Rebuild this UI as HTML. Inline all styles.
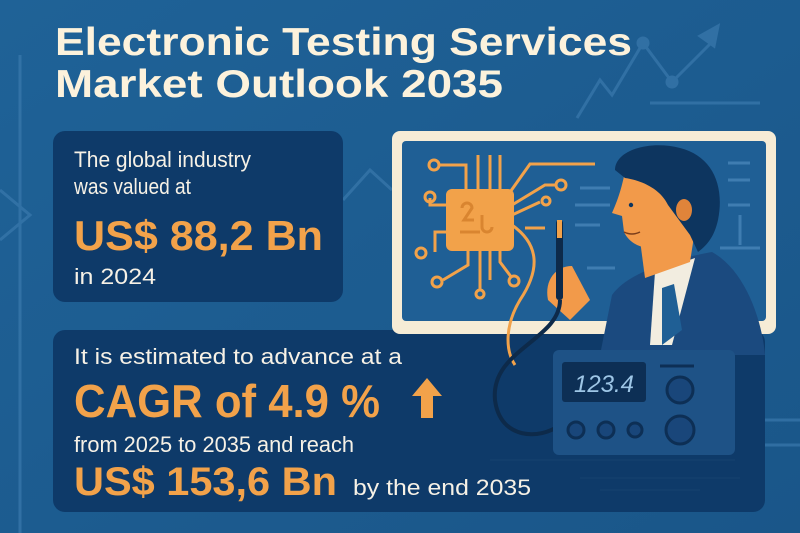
<!DOCTYPE html>
<html><head><meta charset="utf-8"><style>
html,body{margin:0;padding:0;background:#1d5d91;}
svg{display:block;font-family:"Liberation Sans",sans-serif;}
</style></head><body>
<svg width="800" height="533" viewBox="0 0 800 533">
<defs><linearGradient id="bg" x1="0" y1="0" x2="1" y2="1"><stop offset="0" stop-color="#1f6297"/><stop offset="1" stop-color="#1a5689"/></linearGradient></defs>
<rect width="800" height="533" fill="url(#bg)"/>
<g stroke="#3a79ad" stroke-width="3" fill="none" opacity="0.7">
<polyline points="577,118 600,80 612,95 643,43 672,82 710,44"/><polygon points="700,36 718,26 714,46" fill="#3a79ad"/>
<circle cx="643" cy="43" r="5" fill="#3a79ad"/><circle cx="672" cy="82" r="5" fill="#3a79ad"/>
<line x1="650" y1="103" x2="760" y2="103"/>
<line x1="20" y1="55" x2="20" y2="533"/><polyline points="0,190 30,215 0,240"/>
<polyline points="343,200 370,170 392,190"/><line x1="735" y1="420" x2="800" y2="420"/><line x1="735" y1="445" x2="800" y2="445"/>
</g>
<g fill="#fcf2dc" font-weight="bold" font-size="39">
<text x="55" y="55" textLength="577" lengthAdjust="spacingAndGlyphs">Electronic Testing Services</text>
<text x="55" y="97" textLength="448" lengthAdjust="spacingAndGlyphs">Market Outlook 2035</text>
</g>
<rect x="53" y="131" width="290" height="171" rx="12" fill="#0e3a69"/>
<text x="74" y="167" font-size="22" fill="#f6f1e6" textLength="177" lengthAdjust="spacingAndGlyphs">The global industry</text>
<text x="74" y="194" font-size="22" fill="#f6f1e6" textLength="117" lengthAdjust="spacingAndGlyphs">was valued at</text>
<text x="74" y="250" font-size="42" font-weight="bold" fill="#f2a24a" textLength="249" lengthAdjust="spacingAndGlyphs">US$ 88,2 Bn</text>
<text x="74" y="284" font-size="22" fill="#f6f1e6" textLength="82" lengthAdjust="spacingAndGlyphs">in 2024</text>

<rect x="53" y="330" width="712" height="182" rx="12" fill="#0e3a69"/>
<text x="74" y="364" font-size="22" fill="#f6f1e6" textLength="328" lengthAdjust="spacingAndGlyphs">It is estimated to advance at a</text>
<text x="74" y="417" font-size="46" font-weight="bold" fill="#f2a24a" textLength="306" lengthAdjust="spacingAndGlyphs">CAGR of 4.9 %</text>
<polygon points="427,378 442,396 433,396 433,418 421,418 421,396 412,396" fill="#f2a24a"/>
<text x="74" y="452" font-size="22" fill="#f6f1e6" textLength="280" lengthAdjust="spacingAndGlyphs">from 2025 to 2035 and reach</text>
<text x="74" y="495" font-size="40" font-weight="bold" fill="#f2a24a" textLength="263" lengthAdjust="spacingAndGlyphs">US$ 153,6 Bn</text>
<text x="353" y="495" font-size="22" fill="#f6f1e6" textLength="178" lengthAdjust="spacingAndGlyphs">by the end 2035</text>

<g>
<rect x="392" y="131" width="384" height="203" rx="8" fill="#f6ecd6"/>
<rect x="402" y="141" width="364" height="180" rx="4" fill="#1f5f95"/>
<g stroke="#3f7db1" stroke-width="3"><line x1="580" y1="188" x2="610" y2="188"/><line x1="575" y1="205" x2="610" y2="205"/><line x1="575" y1="225" x2="600" y2="225"/><line x1="587" y1="268" x2="615" y2="268"/><line x1="728" y1="163" x2="750" y2="163"/><line x1="728" y1="180" x2="750" y2="180"/><line x1="728" y1="205" x2="750" y2="205"/><line x1="720" y1="248" x2="760" y2="248"/><line x1="740" y1="215" x2="740" y2="245"/></g>
<g stroke="#f2a24a" stroke-width="3" fill="none">
<polyline points="466,195 466,165 440,165"/><circle cx="434" cy="165" r="5"/>
<line x1="478" y1="195" x2="478" y2="155"/><line x1="490" y1="195" x2="490" y2="155"/><line x1="500" y1="195" x2="500" y2="155"/>
<polyline points="508,195 530,164 595,164"/><polyline points="512,205 545,185 555,185"/><circle cx="561" cy="185" r="5"/>
<polyline points="512,215 540,202"/><circle cx="546" cy="201" r="4"/><line x1="525" y1="228" x2="545" y2="228"/>
<polyline points="455,205 430,205 430,198"/><circle cx="430" cy="197" r="5"/>
<polyline points="455,232 435,232 435,252"/><circle cx="421" cy="253" r="5"/>
<polyline points="468,245 468,265 443,280"/><circle cx="437" cy="282" r="5"/>
<line x1="480" y1="245" x2="480" y2="290"/><circle cx="480" cy="294" r="4"/>
<line x1="490" y1="245" x2="490" y2="280"/><polyline points="500,245 500,262 512,278"/><circle cx="514" cy="281" r="5"/>
<path d="M512,225 C540,245 540,270 520,300 C505,325 505,350 515,365"/>
</g>
<rect x="446" y="189" width="68" height="62" rx="6" fill="#f2a24a"/>
<g stroke="#d98530" stroke-width="3" fill="none"><path d="M462,208 a5,5 0 1 1 10,0 l-8,12 h10 M460,232 h20 M482,215 v12 a5,5 0 1 0 10,0"/></g>
</g>
<g>
<path d="M600,355 L612,295 C630,270 680,258 712,252 C745,270 762,320 765,355 Z" fill="#1b4a7f"/>
<path d="M655,272 L695,258 L672,345 L650,345 Z" fill="#f2ede0"/>
<path d="M662,288 L674,284 L682,330 L662,345 Z" fill="#1f5f95"/>
<path d="M640,240 L645,278 L690,262 L695,230 Z" fill="#f29a4a"/>
<path d="M625,172 C622,185 620,195 612,213 L622,216 L624,232 C630,245 645,250 660,248 L690,238 L700,200 L660,175 Z" fill="#f29a4a"/>
<path d="M615,170 C615,150 650,140 680,148 C712,156 725,185 718,220 C714,238 706,246 698,252 L690,235 L668,205 C660,188 640,180 625,178 Z" fill="#0d355f"/>
<ellipse cx="684" cy="210" rx="8" ry="11" fill="#e0843a"/>
<circle cx="631" cy="205" r="2.2" fill="#0d355f"/>
<path d="M624,232 Q632,236 640,232" stroke="#7a3d1a" stroke-width="1.5" fill="none"/>
<path d="M548,300 C544,280 556,266 572,266 L590,300 L570,320 Z" fill="#f29a4a"/>
<rect x="556" y="220" width="7" height="80" rx="3" fill="#0d2a4a"/>
<rect x="557" y="220" width="5" height="18" fill="#f2a24a"/>
<path d="M560,300 C560,340 490,350 495,400 C500,440 540,440 560,425" stroke="#0d2a4a" stroke-width="4" fill="none"/>
</g>
<g>
<rect x="553" y="350" width="182" height="105" rx="6" fill="#1e5286"/>
<rect x="562" y="362" width="84" height="40" rx="3" fill="#0d2f55"/>
<text x="604" y="392" font-size="24" fill="#9ec6e6" text-anchor="middle" font-style="italic">123.4</text>
<line x1="660" y1="366" x2="694" y2="366" stroke="#0d2f55" stroke-width="3"/>
<g fill="#19467a" stroke="#0d2f55" stroke-width="3"><circle cx="680" cy="390" r="13"/><circle cx="680" cy="430" r="14"/><circle cx="576" cy="430" r="8"/><circle cx="606" cy="430" r="8"/><circle cx="635" cy="430" r="7"/></g>
<g stroke="#123e6c" stroke-width="2"><line x1="490" y1="460" x2="735" y2="460"/><line x1="580" y1="478" x2="740" y2="478"/><line x1="600" y1="490" x2="700" y2="490"/></g>
</g>
</svg>
</body></html>
